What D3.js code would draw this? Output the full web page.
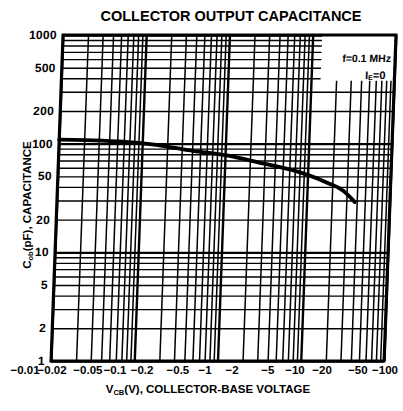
<!DOCTYPE html>
<html><head><meta charset="utf-8">
<script src="https://cdn.jsdelivr.net/npm/d3@7"></script>
<style>
body{margin:0;background:#fff;}
text{font-family:"Liberation Sans",Arial,sans-serif;font-weight:bold;fill:#000;}
</style></head>
<body>
<svg id="c" width="403" height="411"></svg>
<script>
// ---- data ----
const xTickValues = [0.01,0.02,0.05,0.1,0.2,0.5,1,2,5,10,20,50,100];
const xTickLabels = ["\u22120.01","\u22120.02","\u22120.05","\u22120.1","\u22120.2","\u22120.5","\u22121","\u22122","\u22125","\u221210","\u221220","\u221250","\u2212100"];
const yTickValues = [1,2,5,10,20,50,100,200,500,1000];
const yTickLabels = ["1","2","5","10","20","50","100","200","500","1000"];
const vcb = [0.01,0.02,0.05,0.085,0.2,0.41,1.05,2.6,6.6,17,27,38];
const cob = [109,108,105,102,94,86,78,67,57,44,37,29];

const svg = d3.select("#c");
const X0=51, X1=384, Y0=35, Y1=361;
const x = d3.scaleLog().domain([0.01,100]).range([X0,X1]);
const y = d3.scaleLog().domain([1,1000]).range([Y1,Y0]);
const xl = d3.scaleLog().domain([0.01,100]).range([25,385]);

// title
svg.append("text").attr("x",231).attr("y",21).attr("text-anchor","middle")
  .style("font-size","14.5px").text("COLLECTOR OUTPUT CAPACITANCE");

// skewed plot group (scan tilt)
const g = svg.append("g").attr("transform",`translate(0,${Y1}) skewX(-2.1) translate(0,${-Y1})`);

// vertical grid
const gx = g.append("g").attr("transform",`translate(0,${Y1})`)
  .call(d3.axisBottom(x).tickValues(x.ticks()).tickSize(-(Y1-Y0)).tickFormat(""));
gx.select(".domain").remove();
gx.selectAll(".tick line").attr("stroke","#000")
  .attr("stroke-width",d=>{const l=Math.log10(d);return Math.abs(l-Math.round(l))<1e-6?2.4:1.5;});

// horizontal grid
const gy = g.append("g").attr("transform",`translate(${X0},0)`)
  .call(d3.axisRight(y).tickValues(y.ticks()).tickSize(X1-X0).tickFormat(""));
gy.select(".domain").remove();
gy.selectAll(".tick line").attr("stroke","#000")
  .attr("stroke-width",d=>{const l=Math.log10(d);return Math.abs(l-Math.round(l))<1e-6?2.4:1.4;});

// legend blank area
g.append("rect").attr("x",x(13)).attr("y",Y0+1).attr("width",X1-x(13)-1.5).attr("height",y(380)-Y0-1).attr("fill","#fff");
g.append("text").attr("x",X1-4).attr("y",y(600)+3).attr("text-anchor","end").style("font-size","10.5px").text("f=0.1 MHz");
const ie = g.append("text").attr("x",X1-9).attr("y",y(420)+3).attr("text-anchor","end").style("font-size","11px");
ie.append("tspan").text("I");
ie.append("tspan").attr("font-size","7px").attr("dy",1).text("E");
ie.append("tspan").attr("dy",-1).text("=0");

// border
g.append("rect").attr("x",X0).attr("y",Y0).attr("width",X1-X0).attr("height",Y1-Y0)
  .attr("fill","none").attr("stroke","#000").attr("stroke-width",3);

// y tick labels
g.selectAll(".ylab").data(yTickValues).join("text").attr("class","ylab")
  .attr("x",X0-6).attr("y",d=>y(d)+4).attr("text-anchor","end")
  .style("font-size","12px").style("letter-spacing","0.3px")
  .text((d,i)=>yTickLabels[i]);

// curve
const pts = vcb.map((v,i)=>[v,cob[i]]);
g.append("path").datum(pts)
  .attr("d",d3.line().x(d=>x(d[0])).y(d=>y(d[1])).curve(d3.curveMonotoneX))
  .attr("fill","none").attr("stroke","#000").attr("stroke-width",3.8).attr("stroke-linecap","round");

// x tick labels
svg.selectAll(".xlab").data(xTickValues).join("text").attr("class","xlab")
  .attr("x",d=>xl(d)).attr("y",Y1+13).attr("text-anchor","middle")
  .style("font-size","11.5px").text((d,i)=>xTickLabels[i]);

// axis titles
const xt = svg.append("text").attr("x",208).attr("y",393).attr("text-anchor","middle").style("font-size","11.5px");
xt.append("tspan").text("V");
xt.append("tspan").attr("font-size","7.5px").attr("dy",2).text("CB");
xt.append("tspan").attr("dy",-2).text("(V), COLLECTOR-BASE VOLTAGE");

const yt = svg.append("text").attr("transform","translate(31,205) rotate(-90)").attr("text-anchor","middle").style("font-size","11.5px");
yt.append("tspan").text("C");
yt.append("tspan").attr("font-size","7.5px").attr("dy",2).text("ob");
yt.append("tspan").attr("dy",-2).text("(pF), CAPACITANCE");
</script>
</body></html>
